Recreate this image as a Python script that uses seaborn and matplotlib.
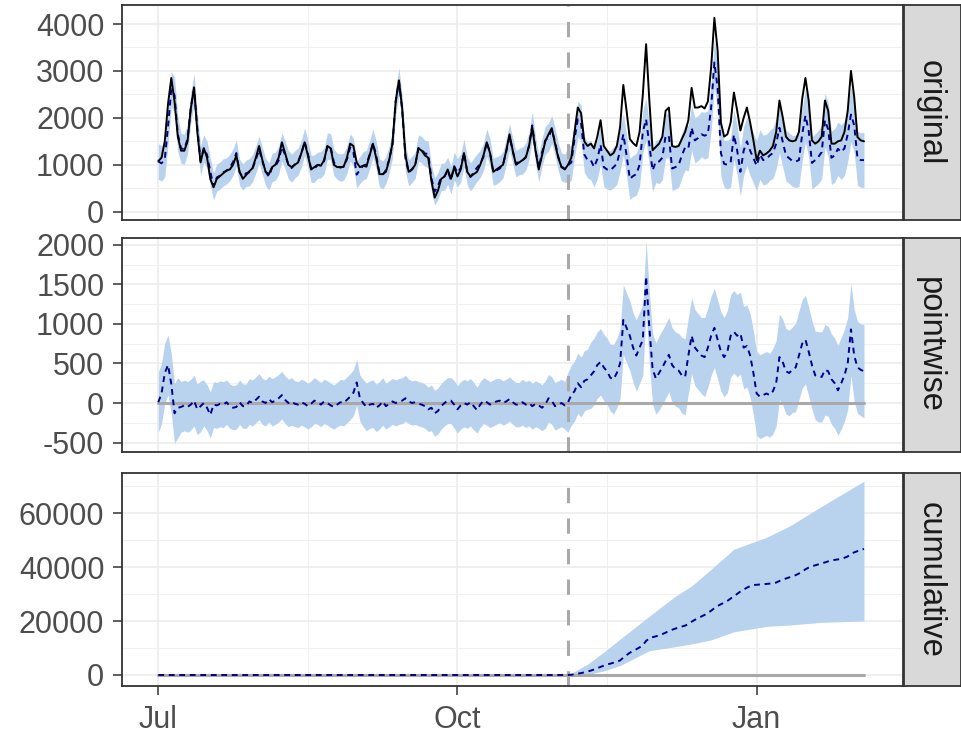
import numpy as np
import pandas as pd
import matplotlib
matplotlib.use("Agg")
import matplotlib.pyplot as plt
import matplotlib.ticker as mticker
import seaborn as sns

# ---- data -------------------------------------------------------------
start_date = "2018-07-01"
pre_period_end = "2018-11-04"

# daily observed response
observed = [
    1080, 1150, 1500, 2300, 2850, 2350, 1600, 1300, 1300, 1500,
    2200, 2650, 1700, 1050, 1350, 1150, 700, 520, 700, 760,
    820, 880, 900, 1000, 1200, 850, 700, 780, 860, 930,
    1150, 1400, 1100, 850, 800, 950, 1000, 1150, 1480, 1250,
    1000, 950, 1000, 1050, 1250, 1480, 1200, 900, 950, 1000,
    980, 1100, 1400, 1350, 1000, 950, 950, 960, 1150, 1450,
    1400, 1050, 950, 980, 960, 1200, 1450, 1150, 800, 800,
    850, 1100, 1450, 2350, 2800, 2200, 1200, 850, 900, 1000,
    1350, 1300, 1200, 1150, 650, 300, 450, 700, 750, 900,
    700, 950, 750, 900, 1250, 850, 750, 800, 850, 1000,
    1200, 1480, 1250, 850, 900, 950, 1000, 1300, 1650, 1300,
    1000, 1050, 1100, 1150, 1400, 1800, 1300, 900, 1200, 1500,
    1650, 1780, 1450, 1150, 950, 900, 1000,
    1150, 1700, 2220, 2100, 1500, 1400, 1450, 1350, 1600, 1950,
    1400, 1300, 1200, 1250, 1400, 1800, 2700, 2150, 1550, 1460,
    1400, 1700, 2500, 3570, 2370, 1310, 1380, 1450, 1600, 2150,
    2220, 1400, 1380, 1400, 1550, 1700, 1950, 2640, 2220, 2220,
    2250, 2200, 2350, 3070, 4130, 3430, 1900, 1600, 1650, 1900,
    2540, 2160, 1730, 2000, 2220, 1900, 1520, 1100, 1300, 1200,
    1240, 1300, 1400, 1700, 2370, 2020, 1600, 1520, 1500, 1520,
    1700, 2400, 2850, 2370, 1520, 1450, 1500, 1600, 2370, 2150,
    1450, 1450, 1500, 1520, 1700, 2150, 3000, 2440, 1590, 1520,
    1500,
]

# daily pointwise effect (observed minus counterfactual prediction)
effect = [
    10, 120, 380, 480, 240, -130, -60, -50, -30, -50,
    -20, 30, -80, -40, 0, -60, -150, -20, -30, -10,
    -20, 10, -40, -60, -50, 10, -40, -40, 20, 0,
    40, 80, 20, 0, 50, 10, 30, 60, 100, 40,
    0, 20, -10, -20, 10, -10, -40, -10, 30, 10,
    -20, 20, 0, -30, -50, -20, 10, 0, 40, 80,
    130, 260, 60, 0, -50, -20, -10, -60, -30, 20,
    -40, -10, 20, 0, 20, 30, 60, 20, 0, 10,
    -10, -20, -40, -80, -60, -130, -100, -40, 0, 30,
    30, -20, -80, -30, 0, -20, 10, -40, -90, -20,
    30, 10, -20, 0, 20, 30, 0, 20, 50, 10,
    -20, -20, 10, -20, 0, -40, -10, -30, -60, -20,
    60, 30, -40, -20, 0, -30, 10,
    100, 150, 250, 200, 280, 300, 350, 400, 480, 520,
    450, 400, 320, 300, 380, 500, 1050, 950, 850, 700,
    600, 700, 800, 1600, 950, 430, 310, 380, 450, 530,
    610, 480, 430, 410, 350, 330, 600, 850, 700, 650,
    600, 580, 700, 850, 950, 800, 650, 580, 650, 850,
    900, 850, 880, 700, 720, 600, 380, 120, 80, 100,
    120, 100, 150, 250, 580, 520, 400, 380, 420, 450,
    600, 750, 800, 650, 480, 350, 330, 330, 420, 400,
    300, 250, 160, 250, 350, 500, 930, 600, 450, 420,
    400,
]

# half-width of the posterior interval, one value per week
band_halfwidth_weekly = [
    380, 320, 290, 280, 290, 300, 290, 280, 290, 300, 290, 280, 290, 300,
    290, 280, 290, 300, 380, 420, 440, 450, 470, 480, 500, 520, 530, 540,
    560, 570, 580, 590,
]

# interval of the cumulative effect after the intervention
cum_band_dates = ["2018-11-04", "2018-11-10", "2018-11-15", "2018-11-20",
                  "2018-11-29", "2018-12-07", "2018-12-12", "2018-12-18",
                  "2018-12-25", "2019-01-04", "2019-01-11", "2019-01-21",
                  "2019-02-03"]
cum_band_lower = [0, 200, 1500, 3500, 9000, 10500, 11500, 13000, 16000,
                  18000, 18500, 19500, 20000]
cum_band_upper = [0, 4000, 8500, 13300, 21800, 29200, 33000, 39200, 46600,
                  51000, 55100, 62500, 71800]

panel_names = ["original", "pointwise", "cumulative"]
month_ticks = ["2018-07-01", "2018-10-01", "2019-01-01"]
month_labels = ["Jul", "Oct", "Jan"]
month_minor = ["2018-08-16", "2018-11-16"]

original_ticks = [0, 1000, 2000, 3000, 4000]
pointwise_ticks = [-500, 0, 500, 1000, 1500, 2000]
cumulative_ticks = [0, 20000, 40000, 60000]

# ---- derived series -----------------------------------------------------
dates = pd.date_range(start_date, periods=len(observed), freq="D")
obs = np.asarray(observed, float)
eff = np.asarray(effect, float)
pred = obs - eff
hw = np.repeat(band_halfwidth_weekly, 7)[: len(obs)]
post = dates > pd.Timestamp(pre_period_end)
cum_mean = np.cumsum(np.where(post, eff, 0.0))

df = pd.DataFrame({
    "date": dates,
    "observed": obs,
    "predicted": pred,
    "pred_lo": pred - hw,
    "pred_hi": pred + hw,
    "point": eff,
    "point_lo": obs - (pred + hw),
    "point_hi": obs - (pred - hw),
    "cum": cum_mean,
    "zero": np.zeros(len(obs)),
})
cum_df = pd.DataFrame({
    "date": pd.to_datetime(cum_band_dates),
    "lo": cum_band_lower,
    "hi": cum_band_upper,
})

# ---- style ----------------------------------------------------------------
sns.set_theme(style="white")
plt.rcParams["font.family"] = ["Liberation Sans", "DejaVu Sans"]
plt.rcParams["axes.unicode_minus"] = False

BAND = "#B9D3EE"
PRED = "#00008B"
GREY = "#A9A9A9"
FRAME = "#333333"
GRID = "#EBEBEB"
FS = 22
STRIP_FS = 23.5

W, H = 961, 736
fig = plt.figure(figsize=(W / 100, H / 100), dpi=100)

left, right = 121.7, 903.0
panels_px = [(5, 220), (238, 452), (473, 686)]
ylims = [(-177, 4405), (-619, 2085), (-4080, 74840)]
yticks = [original_ticks, pointwise_ticks, cumulative_ticks]
yminor = [[500, 1500, 2500, 3500],
          [-250, 250, 750, 1250, 1750],
          [10000, 30000, 50000, 70000]]
x0 = dates[0] - pd.Timedelta(days=11.25)
x1 = dates[0] + pd.Timedelta(days=229)
vline_at = pd.Timestamp(pre_period_end)

dash_pred = (0, (3.0, 2.4))
dash_vline = (0, (5.0, 5.0))


def date_locator(values):
    return mticker.FixedLocator([matplotlib.dates.date2num(pd.Timestamp(d)) for d in values])


axes = []
for i, (top, bottom) in enumerate(panels_px):
    ax = fig.add_axes([left / W, 1 - bottom / H, (right - left) / W, (bottom - top) / H])
    ax.set_facecolor("white")
    for s in ax.spines.values():
        s.set_color(FRAME)
        s.set_linewidth(1.3)

    # facet strip on the right
    sx = fig.add_axes([904 / W, 1 - bottom / H, 57 / W, (bottom - top) / H])
    sx.set_facecolor("#D9D9D9")
    sx.set_xticks([])
    sx.set_yticks([])
    for s in sx.spines.values():
        s.set_color(FRAME)
        s.set_linewidth(1.3)
    sx.text(0.45, 0.5, panel_names[i], rotation=270, ha="center", va="center",
            fontsize=STRIP_FS, color="#1A1A1A", transform=sx.transAxes)
    axes.append(ax)

ax1, ax2, ax3 = axes

# original
ax1.fill_between(df["date"], df["pred_lo"], df["pred_hi"], color=BAND, lw=0)
ax1.axvline(vline_at, color=GREY, lw=2.2, linestyle=dash_vline)
sns.lineplot(data=df, x="date", y="predicted", ax=ax1, color=PRED, lw=1.4,
             linestyle=dash_pred, estimator=None)
sns.lineplot(data=df, x="date", y="observed", ax=ax1, color="black", lw=1.4,
             estimator=None)

# pointwise
ax2.fill_between(df["date"], df["point_lo"], df["point_hi"], color=BAND, lw=0)
sns.lineplot(data=df, x="date", y="zero", ax=ax2, color=GREY, lw=2.2, estimator=None)
ax2.axvline(vline_at, color=GREY, lw=2.2, linestyle=dash_vline)
sns.lineplot(data=df, x="date", y="point", ax=ax2, color=PRED, lw=1.4,
             linestyle=dash_pred, estimator=None)

# cumulative
ax3.fill_between(cum_df["date"], cum_df["lo"], cum_df["hi"], color=BAND, lw=0)
sns.lineplot(data=df, x="date", y="zero", ax=ax3, color=GREY, lw=2.2, estimator=None)
ax3.axvline(vline_at, color=GREY, lw=2.2, linestyle=dash_vline)
sns.lineplot(data=df, x="date", y="cum", ax=ax3, color=PRED, lw=1.4,
             linestyle=dash_pred, estimator=None)

for i, ax in enumerate(axes):
    ax.set_xlim(x0, x1)
    ax.set_ylim(*ylims[i])
    ax.set_xlabel("")
    ax.set_ylabel("")
    ax.yaxis.set_major_locator(mticker.FixedLocator(yticks[i]))
    ax.yaxis.set_major_formatter(mticker.FixedFormatter([str(v) for v in yticks[i]]))
    ax.yaxis.set_minor_locator(mticker.FixedLocator(yminor[i]))
    ax.xaxis.set_major_locator(date_locator(month_ticks))
    ax.xaxis.set_major_formatter(mticker.FixedFormatter(month_labels))
    ax.xaxis.set_minor_locator(date_locator(month_minor))
    ax.grid(which="major", color=GRID, linewidth=1.1)
    ax.grid(which="minor", color="#F0F0F0", linewidth=0.7)
    ax.set_axisbelow(True)
    ax.tick_params(axis="y", which="major", length=6.5, width=1.1, color=FRAME,
                   labelsize=FS, labelcolor="#4D4D4D", pad=6, left=True)
    ax.tick_params(axis="both", which="minor", length=0)
    if i < 2:
        ax.tick_params(axis="x", which="major", length=0, labelbottom=False)
    else:
        ax.tick_params(axis="x", which="major", length=6.5, width=1.1, color=FRAME,
                       labelsize=FS, labelcolor="#4D4D4D", pad=7, bottom=True)

fig.savefig("out.png", dpi=100)
